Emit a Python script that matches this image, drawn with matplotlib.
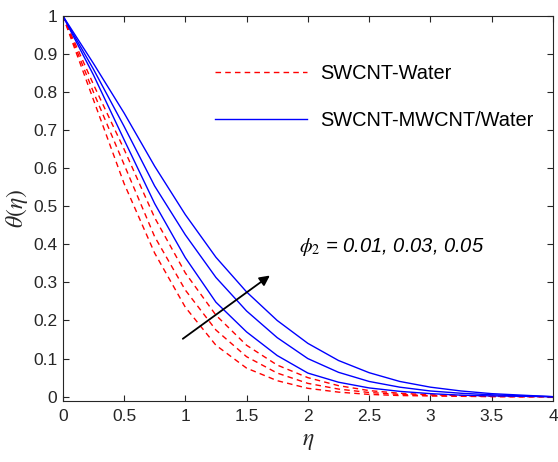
import numpy as np
import matplotlib
matplotlib.use('Agg')
from matplotlib import pyplot as plt

plt.rcParams['font.family'] = ['Liberation Sans', 'DejaVu Sans']
plt.rcParams['mathtext.fontset'] = 'stix'

# eta grid
eta = [0, 0.25, 0.5, 0.75, 1.0, 1.25, 1.5, 1.75, 2.0, 2.25, 2.5, 2.75,
       3.0, 3.25, 3.5, 3.75, 4.0]

# SWCNT-Water (red dashed), phi2 = 0.01, 0.03, 0.05
red_1 = [1, 0.78, 0.56, 0.377, 0.235, 0.135, 0.075, 0.042, 0.022, 0.012,
         0.006, 0.003, 0.002, 0.001, 0.0, 0.0, 0.0]
red_2 = [1, 0.80, 0.61, 0.42, 0.28, 0.175, 0.105, 0.062, 0.035, 0.02,
         0.011, 0.006, 0.003, 0.002, 0.001, 0.0, 0.0]
red_3 = [1, 0.82, 0.65, 0.47, 0.325, 0.214, 0.135, 0.083, 0.05, 0.029,
         0.016, 0.009, 0.005, 0.003, 0.001, 0.0, 0.0]

# SWCNT-MWCNT/Water (blue solid)
blue_1 = [1, 0.845, 0.675, 0.507, 0.365, 0.248, 0.17, 0.108, 0.062, 0.038,
          0.023, 0.014, 0.008, 0.004, 0.002, 0.001, 0.0]
blue_2 = [1, 0.86, 0.71, 0.553, 0.425, 0.313, 0.225, 0.155, 0.1, 0.064,
          0.04, 0.025, 0.015, 0.009, 0.005, 0.002, 0.0]
blue_3 = [1, 0.875, 0.745, 0.605, 0.478, 0.366, 0.275, 0.2, 0.14, 0.095,
          0.063, 0.04, 0.025, 0.015, 0.008, 0.004, 0.0]

xticks = np.arange(0, 4.01, 0.5)
yticks = np.arange(0, 1.01, 0.1)
xtick_labels = ['0', '0.5', '1', '1.5', '2', '2.5', '3', '3.5', '4']
ytick_labels = ['0', '0.1', '0.2', '0.3', '0.4', '0.5', '0.6', '0.7', '0.8', '0.9', '1']

fig = plt.figure(figsize=(5.58, 4.62), dpi=100)
ax = fig.add_axes([0.1124, 0.1327, 0.8786, 0.8333])

gray = '#262626'
for i, r in enumerate([red_1, red_2, red_3]):
    ax.plot(eta, r, color='#ff0000', lw=1.0, ls=(0, (4, 3)),
            label='SWCNT-Water' if i == 0 else None)
for i, b in enumerate([blue_1, blue_2, blue_3]):
    ax.plot(eta, b, color='#0000ff', lw=1.0,
            label='SWCNT-MWCNT/Water' if i == 0 else None)

ax.set_xlim(0, 4)
ax.set_ylim(-0.0105, 1)
ax.set_xticks(xticks)
ax.set_xticklabels(xtick_labels)
ax.set_yticks(yticks)
ax.set_yticklabels(ytick_labels)
ax.tick_params(direction='in', length=4, width=0.8, top=True, right=True,
               labelsize=12.5, colors=gray, labelcolor=gray)
ax.tick_params(axis='x', pad=6)
ax.tick_params(axis='y', pad=4)
for s in ax.spines.values():
    s.set_color(gray)
    s.set_linewidth(0.8)

ax.set_xlabel(r'$\eta$', fontsize=17, color=gray, labelpad=4)
ax.set_ylabel(r'$\theta(\eta)$', fontsize=17, color=gray, labelpad=2)

leg = ax.legend(loc='upper left', bbox_to_anchor=(0.311, 0.874), frameon=False,
                fontsize=14.4, handlelength=4.6, handletextpad=0.65,
                labelspacing=1.4, borderpad=0, borderaxespad=0)

ax.annotate('', xy=(1.69, 0.318), xytext=(0.98, 0.152),
            arrowprops=dict(arrowstyle='-|>', color='k', lw=1.3,
                            mutation_scale=15, shrinkA=0, shrinkB=0))
ax.text(1.93, 0.394, r'$\phi_2$ = 0.01, 0.03, 0.05', fontsize=14.5,
        fontstyle='italic', va='center', ha='left', color='k')

fig.savefig('out.png', dpi=100)
